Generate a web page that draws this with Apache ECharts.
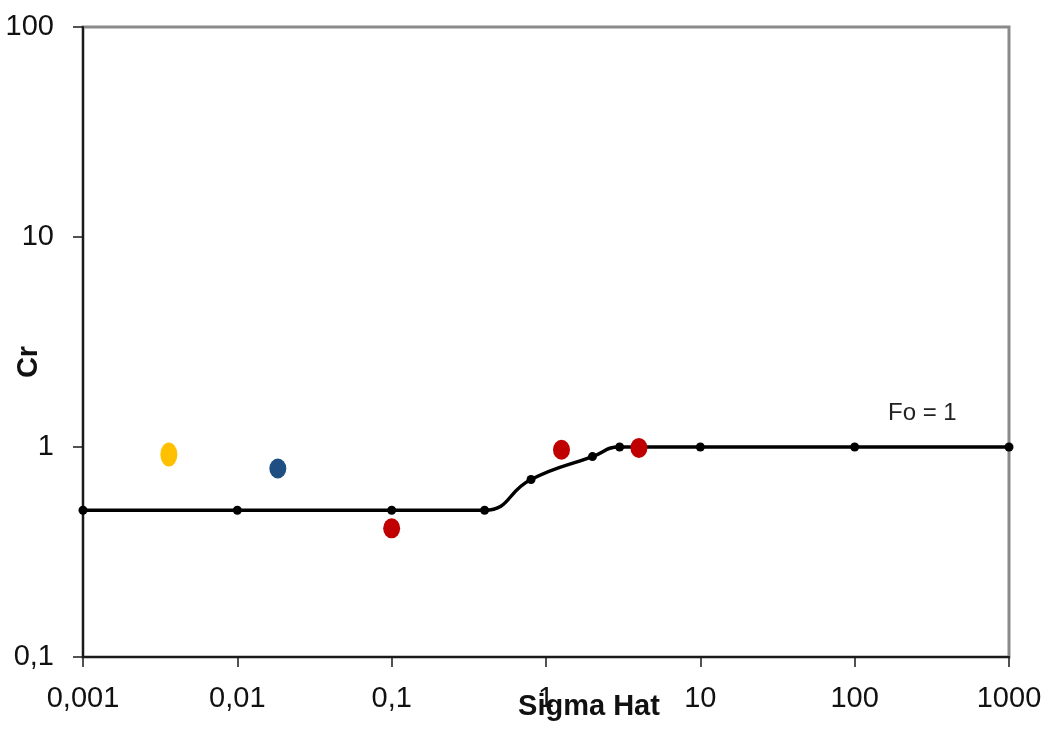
<!DOCTYPE html>
<html>
<head>
<meta charset="utf-8">
<script src="https://cdn.jsdelivr.net/npm/echarts@6/dist/echarts.min.js"></script>
<style>
html,body{margin:0;padding:0;background:#fff;}
#chart{width:1049px;height:734px;}
</style>
</head>
<body>
<div id="chart"></div>
<script>
// ---- data ----
const curveX = [0.001, 0.01, 0.1, 0.4, 0.8, 2, 3, 10, 100, 1000];
const curveY = [0.5, 0.5, 0.5, 0.5, 0.7, 0.9, 1, 1, 1, 1];
const yellowX = [0.0036];
const yellowY = [0.92];
const blueX = [0.0183];
const blueY = [0.79];
const redX = [0.1, 1.26, 4];
const redY = [0.41, 0.97, 0.99];
const xTickLabels = ['0,001', '0,01', '0,1', '1', '10', '100', '1000'];
const yTickLabels = ['0,1', '1', '10', '100'];
const xTitle = 'Sigma Hat';
const yTitle = 'Cr';
const curveLabel = 'Fo = 1';

const zip = (xs, ys) => xs.map((x, i) => [x, ys[i]]);
const FONT = "'Liberation Sans', Arial, sans-serif";

const chart = echarts.init(document.getElementById('chart'), null, {renderer: 'canvas'});
chart.setOption({
  animation: false,
  backgroundColor: '#ffffff',
  grid: {
    left: 83, right: 40, top: 27, bottom: 77,
    containLabel: false, outerBoundsMode: 'none',
    show: true, borderColor: '#8a8a8a', borderWidth: 3, backgroundColor: 'transparent'
  },
  xAxis: {
    type: 'log', logBase: 10, min: 0.001, max: 1000,
    name: xTitle, nameLocation: 'middle', nameGap: 35, nameMoveOverlap: false,
    nameTextStyle: {fontFamily: FONT, fontSize: 29, fontWeight: 'bold', color: '#111', padding: [0, 0, 0, 86]},
    axisLine: {show: true, onZero: false, lineStyle: {color: '#1a1a1a', width: 2}},
    axisTick: {show: true, inside: false, length: 10, lineStyle: {color: '#1a1a1a', width: 1.5}},
    minorTick: {show: false},
    splitLine: {show: false},
    axisLabel: {
      margin: 27, fontFamily: FONT, fontSize: 29, color: '#111',
      formatter: v => xTickLabels[Math.round(Math.log10(v)) + 3]
    }
  },
  yAxis: {
    type: 'log', logBase: 10, min: 0.1, max: 100,
    name: yTitle, nameLocation: 'middle', nameGap: 40, nameMoveOverlap: false,
    nameTextStyle: {fontFamily: FONT, fontSize: 29, fontWeight: 'bold', color: '#111', padding: [0, 40, 0, 0]},
    axisLine: {show: true, onZero: false, lineStyle: {color: '#1a1a1a', width: 2}},
    axisTick: {show: true, inside: false, length: 10, lineStyle: {color: '#1a1a1a', width: 1.5}},
    minorTick: {show: false},
    splitLine: {show: false},
    axisLabel: {
      margin: 29, fontFamily: FONT, fontSize: 29, color: '#111',
      formatter: v => yTickLabels[Math.round(Math.log10(v)) + 1]
    }
  },
  series: [
    {
      type: 'line', data: zip(curveX, curveY), smooth: 0.5,
      symbol: 'circle', symbolSize: 9,
      itemStyle: {color: '#000'},
      lineStyle: {color: '#000', width: 3.5},
      z: 2
    },
    {
      type: 'scatter', data: zip(yellowX, yellowY), symbol: 'circle', symbolSize: [17, 24],
      itemStyle: {color: '#FFC000', opacity: 1}, z: 3
    },
    {
      type: 'scatter', data: zip(blueX, blueY), symbol: 'circle', symbolSize: [17, 20],
      itemStyle: {color: '#1F4E82', opacity: 1}, z: 3
    },
    {
      type: 'scatter', data: zip(redX, redY), symbol: 'circle', symbolSize: [17, 20],
      itemStyle: {color: '#C00000', opacity: 1}, z: 3
    }
  ],
  graphic: [
    {
      type: 'text', left: 888, top: 401,
      style: {text: curveLabel, fontFamily: FONT, fontSize: 24, fill: '#222'}
    }
  ]
});
</script>
</body>
</html>
